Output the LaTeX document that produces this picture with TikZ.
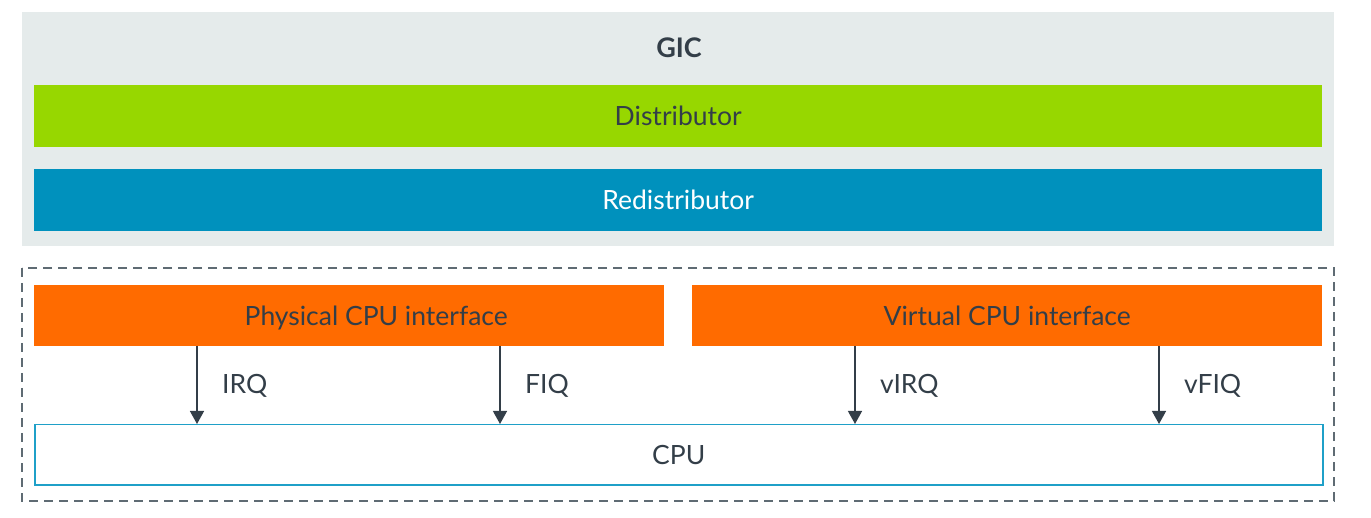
\documentclass[tikz,border=0pt]{standalone}
\usepackage{fontspec}
\setmainfont{Lato}
\usetikzlibrary{arrows.meta}
\definecolor{gicbg}{HTML}{E5EBEB}
\definecolor{distc}{HTML}{97D700}
\definecolor{redistc}{HTML}{0091BD}
\definecolor{orangec}{HTML}{FF6B00}
\definecolor{darkt}{HTML}{333E48}
\definecolor{dashc}{HTML}{5F6B73}
\definecolor{cpub}{HTML}{1FA0C8}
\tikzset{
  bar/.style={anchor=north west, inner sep=0pt, text=darkt, text height=24pt, text depth=5pt, font=\fontsize{26.5}{30}\selectfont},
  lbl/.style={anchor=base west, inner sep=0pt, text=darkt, font=\fontsize{26.5}{30}\selectfont},
  sig/.style={draw=darkt, line width=1.3pt, -{Triangle[width=14pt,length=13pt]}},
}
\begin{document}
\begin{tikzpicture}[x=1pt,y=-1pt]
\useasboundingbox (0,0) rectangle (1371,518);
\fill[gicbg] (22,12) rectangle (1334,246);
\node[text=darkt, anchor=base, inner sep=0pt, font=\fontsize{27}{30}\selectfont\bfseries] (gic) at (679,58) {GIC};
\node[bar, fill=distc, minimum width=1288pt, minimum height=62pt] (dist) at (34,85) {Distributor};
\node[bar, fill=redistc, text=white, minimum width=1288pt, minimum height=62pt] (redist) at (34,169) {Redistributor};
\draw[dashc, line width=1.2pt, dash pattern=on 9pt off 6pt] (22,268) rectangle (1334,501);
\node[bar, fill=orangec, minimum width=630pt, minimum height=61pt] (phys) at (34,285) {\hspace*{54pt}Physical CPU interface};
\node[bar, fill=orangec, minimum width=630pt, minimum height=61pt] (virt) at (692,285) {Virtual CPU interface};
\node[bar, draw=cpub, line width=1.5pt, minimum width=1288pt, minimum height=60pt] (cpu) at (34,424) {CPU};
\coordinate (a1) at (197,346); \coordinate (a2) at (500,346);
\coordinate (a3) at (855,346); \coordinate (a4) at (1159,346);
\draw[sig] (a1) -- (a1 |- cpu.north);
\draw[sig] (a2) -- (a2 |- cpu.north);
\draw[sig] (a3) -- (a3 |- cpu.north);
\draw[sig] (a4) -- (a4 |- cpu.north);
\node[lbl] (l1) at (222,393.5) {IRQ};
\node[lbl] (l2) at (525,393.5) {FIQ};
\node[lbl] (l3) at (880,393.5) {vIRQ};
\node[lbl] (l4) at (1184,393.5) {vFIQ};
\end{tikzpicture}
\end{document}
